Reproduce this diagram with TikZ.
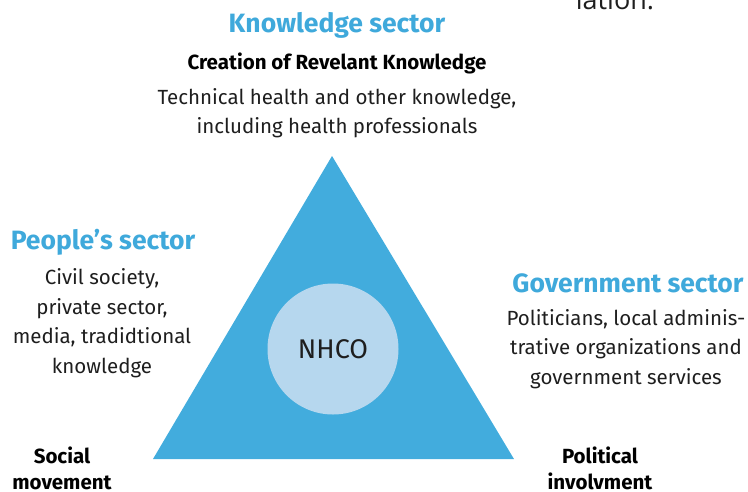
\documentclass[tikz,border=0pt]{standalone}
\usepackage{fontspec}
\setmainfont{Fira Sans}
\newfontfamily\capfont{Open Sans}
\definecolor{triblue}{RGB}{66,172,221}
\definecolor{headblue}{RGB}{63,169,219}
\definecolor{coreblue}{RGB}{182,215,238}
\definecolor{inkgray}{RGB}{30,30,30}
\begin{document}
\begin{tikzpicture}[x=1pt,y=-1pt,
  heading/.style={font=\fontsize{26.5}{30}\selectfont\bfseries, text=headblue, inner sep=0pt},
  subhead/.style={font=\fontsize{20.5}{24}\selectfont\bfseries, text=black, inner sep=0pt},
  body/.style={font=\fontsize{20.5}{29.5}\selectfont, text=inkgray, align=center, inner sep=0pt},
  corner/.style={font=\fontsize{20.5}{26}\selectfont\bfseries, text=black, align=center, inner sep=0pt}]
\useasboundingbox (0,0) rectangle (748,491);

% central triangle and core circle
\fill[triblue] (332,156) -- (514,459) -- (153,459) -- cycle;
\node[circle, fill=coreblue, minimum size=131pt, inner sep=0pt,
      font=\fontsize{27}{30}\selectfont, text=inkgray] (nhco) at (333,349) {NHCO};

% trailing word of the running text above
\node[font=\capfont\fontsize{27}{30}\selectfont, text=inkgray, anchor=base, inner sep=0pt] (tail) at (615,9) {lation.};

% knowledge sector
\node[heading] (khead) at (337,25) {Knowledge sector};
\node[subhead] (ksub) at (337,63) {Creation of Revelant Knowledge};
\node[body] (kbody) at (337,113) {Technical health and other knowledge,\\including health professionals};

% people's sector
\node[heading] (phead) at (103,242) {People’s sector};
\node[body] (pbody) at (102,323) {Civil society,\\private sector,\\media, tradidtional\\knowledge};

% government sector
\node[heading] (ghead) at (628,283) {Government sector};
\node[body] (gbody) at (626,349) {Politicians, local adminis-\\trative organizations and\\government services};

% base corners
\node[corner] (social) at (62,468) {Social\\movement};
\node[corner] (political) at (600,468) {Political\\involvment};
\end{tikzpicture}
\end{document}
